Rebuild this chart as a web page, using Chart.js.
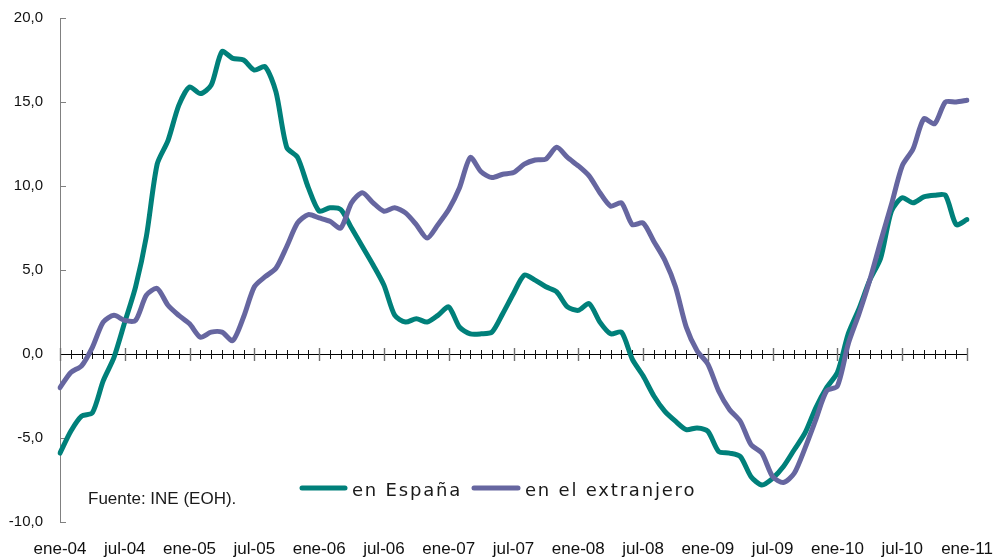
<!DOCTYPE html>
<html><head><meta charset="utf-8">
<script src="https://cdn.jsdelivr.net/npm/chart.js@4.4.1/dist/chart.umd.min.js"></script>
<style>html,body{margin:0;padding:0;background:#fff}#wrap{width:994px;height:560px;position:relative}</style>
</head><body><div id="wrap"><canvas id="c" width="994" height="560"></canvas></div>
<script>
const monthNames = ['ene','feb','mar','abr','may','jun','jul','ago','sep','oct','nov','dic'];
const years = ['04','05','06','07','08','09','10','11'];
const categories = [];
years.forEach(y => monthNames.forEach(m => categories.push(m + '-' + y)));
categories.length = 85; // ene-04 .. ene-11

const espana = [-5.9,-4.6,-3.7,-3.5,-1.6,-0.2,1.9,4.0,7.0,11.3,
  12.7,14.8,15.9,15.5,16.0,18.0,17.6,17.5,16.9,17.1,
  15.6,12.3,11.7,9.9,8.5,8.7,8.6,7.5,6.4,5.3,
  4.1,2.3,1.9,2.1,1.9,2.3,2.8,1.6,1.2,1.2,
  1.3,2.4,3.6,4.7,4.4,4.0,3.7,2.8,2.6,3.0,
  1.9,1.2,1.3,-0.3,-1.3,-2.5,-3.4,-4.0,-4.5,-4.4,
  -4.6,-5.8,-5.9,-6.1,-7.3,-7.8,-7.4,-6.7,-5.7,-4.7,
  -3.2,-2.0,-1.1,1.2,2.7,4.4,5.7,8.5,9.3,9.0,
  9.35,9.45,9.45,7.7,8.0];
const extranjero = [-2.0,-1.1,-0.7,0.4,1.9,2.3,2.0,2.0,3.5,3.9,
  2.9,2.3,1.8,1.0,1.3,1.3,0.8,2.2,4.0,4.6,
  5.1,6.4,7.8,8.3,8.1,7.9,7.5,9.0,9.6,9.0,
  8.5,8.7,8.4,7.7,6.9,7.7,8.6,9.9,11.7,10.85,
  10.5,10.7,10.8,11.3,11.55,11.6,12.3,11.7,11.2,10.6,
  9.6,8.8,9.0,7.7,7.8,6.7,5.6,4.0,1.6,0.2,
  -0.6,-2.2,-3.3,-4.0,-5.4,-5.9,-7.3,-7.65,-7.1,-5.6,
  -3.9,-2.2,-1.9,0.6,2.4,4.4,6.7,8.9,11.2,12.2,
  14.0,13.7,15.0,15.0,15.1];
const yTicks = [-10,-5,0,5,10,15,20];
const seriesNames = ['en España','en el extranjero'];
const colEsp = 'rgb(0,128,122)';
const colExt = 'rgb(102,102,160)';

const axisPlugin = {
  id:'axisPlugin',
  beforeDatasetsDraw(chart){
    const ctx = chart.ctx, xs = chart.scales.x, ys = chart.scales.y;
    const y0 = ys.getPixelForValue(0);
    ctx.save();
    ctx.strokeStyle = '#808080'; ctx.lineWidth = 1;
    yTicks.forEach(v => {
      const y = Math.round(ys.getPixelForValue(v)) + 0.5;
      ctx.beginPath(); ctx.moveTo(xs.left, y); ctx.lineTo(xs.left + 6, y); ctx.stroke();
    });
    ctx.strokeStyle = '#000'; ctx.lineWidth = 1;
    const yy = Math.round(y0) + 0.5;
    ctx.beginPath(); ctx.moveTo(xs.getPixelForValue(0), yy); ctx.lineTo(xs.getPixelForValue(categories.length-1), yy); ctx.stroke();
    categories.forEach((c, i) => {
      const x = Math.round(xs.getPixelForValue(i)) + 0.5;
      ctx.beginPath();
      if (i % 6 === 0) { ctx.strokeStyle = '#707070'; ctx.lineWidth = 1.4; ctx.moveTo(x, yy - 6.5); ctx.lineTo(x, yy + 6.5); }
      else { ctx.strokeStyle = '#111'; ctx.lineWidth = 1; ctx.moveTo(x, yy - 4.5); ctx.lineTo(x, yy + 4.5); }
      ctx.stroke();
    });
    ctx.restore();
  },
  afterDraw(chart){
    const ctx = chart.ctx;
    ctx.save();
    ctx.lineCap = 'round'; ctx.lineWidth = 5;
    ctx.strokeStyle = colEsp;
    ctx.beginPath(); ctx.moveTo(302, 488); ctx.lineTo(345, 488); ctx.stroke();
    ctx.strokeStyle = colExt;
    ctx.beginPath(); ctx.moveTo(474, 488); ctx.lineTo(518, 488); ctx.stroke();
    ctx.fillStyle = '#1a1a1a';
    ctx.font = '18px "DejaVu Sans"';
    ctx.textBaseline = 'alphabetic';
    try { ctx.letterSpacing = '1.8px'; } catch(e) {}
    ctx.fillText(seriesNames[0], 352, 496);
    ctx.fillText(seriesNames[1], 525, 496);
    try { ctx.letterSpacing = '0px'; } catch(e) {}
    ctx.font = '17px "Liberation Sans"';
    ctx.fillText('Fuente: INE (EOH).', 88, 504);
    ctx.restore();
  }
};

new Chart(document.getElementById('c'), {
  type:'line',
  data:{
    labels: categories,
    datasets:[
      {label: seriesNames[0], data: espana, borderColor: colEsp, borderWidth: 5, pointRadius: 0, tension: 0.25, fill:false, borderCapStyle:'round', borderJoinStyle:'round', order: 2},
      {label: seriesNames[1], data: extranjero, borderColor: colExt, borderWidth: 5, pointRadius: 0, tension: 0.25, fill:false, borderCapStyle:'round', borderJoinStyle:'round', order: 1}
    ]
  },
  options:{
    responsive:false, animation:false, devicePixelRatio:1,
    layout:{padding:{left:0, right:27, top:18, bottom:0}},
    plugins:{legend:{display:false}, tooltip:{enabled:false}},
    scales:{
      x:{
        type:'category', offset:false,
        grid:{display:false, drawTicks:false},
        border:{display:false},
        ticks:{autoSkip:false, maxRotation:0, minRotation:0, padding:17, color:'#111',
          font:{family:'"Liberation Sans", Arial', size:17},
          callback:(v, i) => (i % 6 === 0 ? categories[i] : '')},
        afterFit(s){ s.height = 38; s.paddingLeft = 0; s.paddingRight = 0; s.paddingTop = 0; s.paddingBottom = 0; }
      },
      y:{
        min:-10, max:20,
        afterBuildTicks(s){ s.ticks = yTicks.map(v => ({value:v})); },
        ticks:{padding:17, color:'#111', font:{family:'"Liberation Sans", Arial', size:15},
          callback:(v) => v.toFixed(1).replace('.', ',')},
        grid:{display:false, drawTicks:false},
        border:{display:true, color:'#808080', width:1},
        afterFit(s){ s.width = 60; s.paddingLeft = 0; s.paddingRight = 0; s.paddingTop = 0; s.paddingBottom = 0; }
      }
    }
  },
  plugins:[axisPlugin]
});
</script></body></html>
